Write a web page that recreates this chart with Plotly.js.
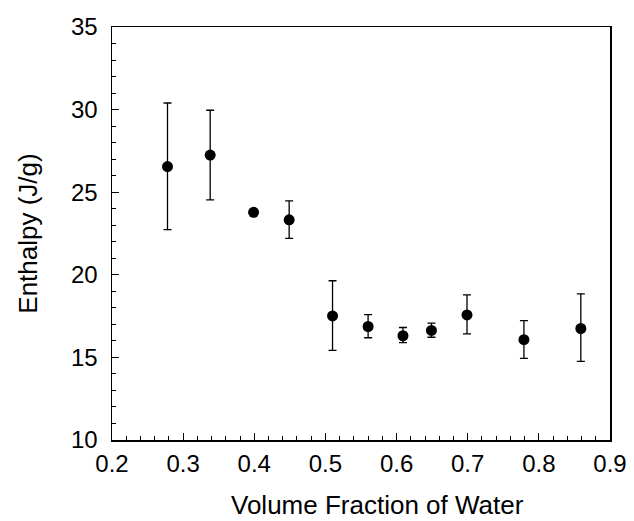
<!DOCTYPE html>
<html>
<head>
<meta charset="utf-8">
<script src="https://cdn.plot.ly/plotly-3.0.1.min.js"></script>
<style>html,body{margin:0;padding:0;background:#fff;}#chart{width:634px;height:521px;}</style>
</head>
<body>
<div id="chart"></div>
<script>
// Data
const volumeFraction = [0.278, 0.338, 0.399, 0.449, 0.510, 0.560, 0.609, 0.649, 0.699, 0.779, 0.859];
const enthalpy       = [26.55, 27.25, 23.78, 23.33, 17.51, 16.87, 16.31, 16.63, 17.57, 16.07, 16.75];
const errorUpper     = [30.40, 29.96, 23.78, 24.48, 19.64, 17.59, 16.81, 17.07, 18.78, 17.23, 18.84];
const errorLower     = [22.73, 24.54, 23.78, 22.21, 15.42, 16.19, 15.89, 16.22, 16.43, 14.94, 14.76];
const xTickValues = [0.2, 0.3, 0.4, 0.5, 0.6, 0.7, 0.8, 0.9];
const xTickLabels = ["0.2", "0.3", "0.4", "0.5", "0.6", "0.7", "0.8", "0.9"];
const yTickValues = [10, 15, 20, 25, 30, 35];
const yTickLabels = ["10", "15", "20", "25", "30", "35"];
const xTitle = 'Volume Fraction of Water';
const yTitle = 'Enthalpy (J/g)';

const plus = enthalpy.map((v, i) => errorUpper[i] - v);
const minus = enthalpy.map((v, i) => v - errorLower[i]);

const trace = {
  x: volumeFraction,
  y: enthalpy,
  type: 'scatter',
  mode: 'markers',
  marker: {color: '#000', size: 11},
  error_y: {type: 'data', symmetric: false, array: plus, arrayminus: minus,
            color: '#000', thickness: 1.3, width: 4},
  showlegend: false,
  hoverinfo: 'x+y'
};

const fam = '"Liberation Sans", Arial, Helvetica, sans-serif';

const layout = {
  width: 634, height: 521,
  margin: {l: 112, r: 24, t: 27, b: 81},
  paper_bgcolor: '#fff', plot_bgcolor: '#fff',
  font: {family: fam, color: '#000'},
  xaxis: {
    range: [0.2, 0.9],
    tickmode: 'array', tickvals: xTickValues, ticktext: xTickLabels,
    ticks: 'inside', ticklen: 7, tickwidth: 1.2, tickcolor: '#000',
    minor: {dtick: 0.02, ticks: 'inside', ticklen: 4, tickwidth: 1, tickcolor: '#000', showgrid: false},
    showline: true, linecolor: '#000', linewidth: 1.5, mirror: true,
    showgrid: false, zeroline: false,
    tickfont: {size: 24, family: fam, color: '#000'},
    ticklabelstandoff: 2
  },
  yaxis: {
    range: [10, 35],
    tickmode: 'array', tickvals: yTickValues, ticktext: yTickLabels,
    ticks: 'inside', ticklen: 7, tickwidth: 1.2, tickcolor: '#000',
    minor: {dtick: 1, ticks: 'inside', ticklen: 4, tickwidth: 1, tickcolor: '#000', showgrid: false},
    showline: true, linecolor: '#000', linewidth: 1.5, mirror: true,
    showgrid: false, zeroline: false,
    tickfont: {size: 24, family: fam, color: '#000'},
    ticklabelstandoff: 8,
    title: {text: yTitle, font: {size: 26, family: fam, color: '#000'}, standoff: 26}
  },
  annotations: [{
    text: xTitle, xref: 'paper', yref: 'paper', x: 0.533, y: 0, yshift: -65,
    xanchor: 'center', yanchor: 'middle', showarrow: false,
    font: {size: 26, family: fam, color: '#000'}
  }]
};

Plotly.newPlot('chart', [trace], layout, {displayModeBar: false, staticPlot: true});
</script>
</body>
</html>
